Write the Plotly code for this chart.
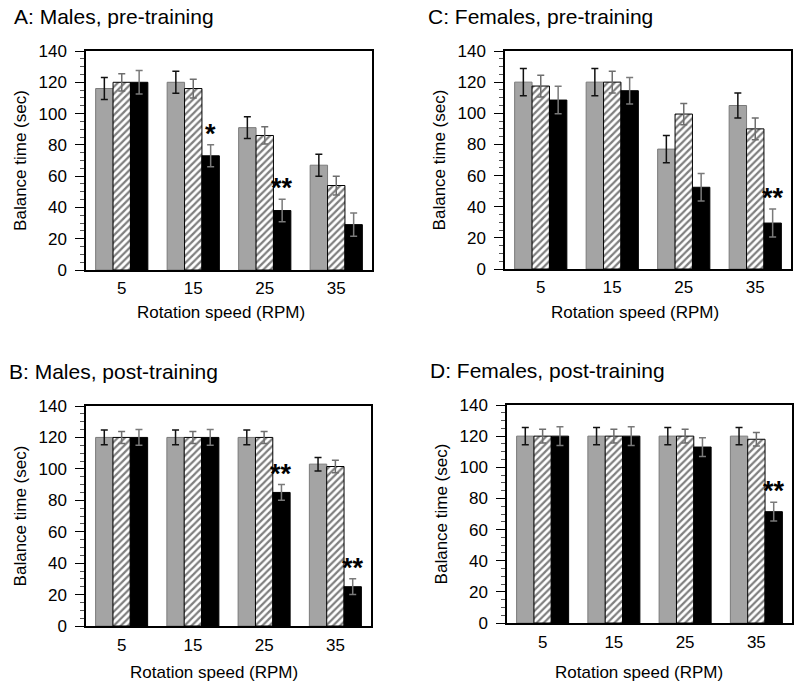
import plotly.graph_objects as go

speeds = ["5", "15", "25", "35"]

# Panel A: Males, pre-training
A_gray = [116, 120, 91, 67]
A_gray_err = [7, 7, 7, 7]
A_hatch = [120, 116, 86, 54]
A_hatch_err = [5.5, 6, 5.5, 6]
A_black = [120, 73, 38, 29]
A_black_err = [7.5, 7, 7.2, 7.4]
A_sig = ["", "*", "**", ""]

# Panel C: Females, pre-training
C_gray = [120, 120, 77, 105]
C_gray_err = [8.7, 8.7, 8.7, 8]
C_hatch = [117.5, 120, 99.5, 90]
C_hatch_err = [7, 7, 6.8, 7]
C_black = [108.5, 114.5, 52.5, 29.5]
C_black_err = [8.8, 8.5, 8.8, 9]
C_sig = ["", "", "", "**"]

# Panel B: Males, post-training
B_gray = [120, 120, 120, 103]
B_gray_err = [4.7, 4.7, 4.7, 4.3]
B_hatch = [120, 120, 120, 101.5]
B_hatch_err = [3.8, 3.8, 3.8, 3.9]
B_black = [120, 120, 85, 25]
B_black_err = [5, 5, 5, 5]
B_sig = ["", "", "**", "**"]

# Panel D: Females, post-training
D_gray = [120, 120, 120, 120]
D_gray_err = [5.6, 5.6, 5.6, 5.6]
D_hatch = [120, 120, 120, 118]
D_hatch_err = [4.4, 4.4, 4.4, 4.3]
D_black = [120, 120, 113, 71.5]
D_black_err = [6, 6, 6, 6]
D_sig = ["", "", "", "**"]

titles = ["A: Males, pre-training", "C: Females, pre-training",
          "B: Males, post-training", "D: Females, post-training"]

panels = [
    (A_gray, A_gray_err, A_hatch, A_hatch_err, A_black, A_black_err, A_sig),
    (C_gray, C_gray_err, C_hatch, C_hatch_err, C_black, C_black_err, C_sig),
    (B_gray, B_gray_err, B_hatch, B_hatch_err, B_black, B_black_err, B_sig),
    (D_gray, D_gray_err, D_hatch, D_hatch_err, D_black, D_black_err, D_sig),
]

# page body margin is removed (post_script), so window pixels = figure pixels
W, H = 800, 683


def px(x):
    return x / W


def py(y):
    return 1 - y / H


# plot-area pixel boxes (left, right, top, bottom)
boxes = [(86, 372, 51, 270), (505, 791, 51, 269),
         (86, 371, 406, 626), (507, 792, 405, 623)]
title_pos = [(12, 16), (426, 16), (7, 371), (428, 370)]
xtitle_pos = [(221, 312), (635, 313), (214, 672), (639, 672)]
xtick_len = [2, 2, 3, 3]

FONT = "Liberation Sans, Arial, Helvetica, sans-serif"
GRAY = "#a4a4a4"
BARGAP = 0.27

fig = go.Figure()
for i, (g, ge, h, he, b, be, sig) in enumerate(panels):
    n = "" if i == 0 else str(i + 1)
    xa, ya = "x" + n, "y" + n
    fig.add_trace(go.Bar(
        x=speeds, y=g, xaxis=xa, yaxis=ya, offsetgroup="g",
        marker=dict(color=GRAY, line=dict(color="#7a7a7a", width=1)),
        error_y=dict(type="data", array=ge, color="#111111", thickness=1.5, width=3.5),
        showlegend=False))
    fig.add_trace(go.Bar(
        x=speeds, y=h, xaxis=xa, yaxis=ya, offsetgroup="h",
        marker=dict(color="white", line=dict(color="black", width=1),
                    pattern=dict(shape="/", fgcolor="black", bgcolor="white",
                                 size=5, solidity=0.45)),
        error_y=dict(type="data", array=he, color="#6e6e6e", thickness=1.5, width=3.5),
        showlegend=False))
    fig.add_trace(go.Bar(
        x=speeds, y=b, xaxis=xa, yaxis=ya, offsetgroup="b",
        marker=dict(color="black", line=dict(color="black", width=1)),
        error_y=dict(type="data", array=be, color="#7a7a7a", thickness=1.5, width=3.5),
        showlegend=False))

    l, r, t, bt = boxes[i]
    xkey = "xaxis" + n
    ykey = "yaxis" + n
    fig.layout[xkey] = dict(
        domain=[px(l), px(r)], anchor=ya, type="category",
        range=[-0.5, len(speeds) - 0.5], automargin=False,
        showline=True, mirror=True, linecolor="black", linewidth=1.5,
        ticks="outside", ticklen=xtick_len[i], tickcolor="rgba(0,0,0,0)",
        showgrid=False, zeroline=False,
        tickfont=dict(family=FONT, size=17, color="black"),
    )
    fig.layout[ykey] = dict(
        domain=[py(bt), py(t)], anchor=xa, range=[0, 140], automargin=False,
        tickvals=[0, 20, 40, 60, 80, 100, 120, 140],
        showline=True, mirror=True, linecolor="black", linewidth=1.5,
        ticks="outside", ticklen=9, tickwidth=1, tickcolor="black",
        ticklabelstandoff=5,
        minor=dict(dtick=5, ticks="outside", ticklen=4, tickcolor="#555555", tickwidth=1),
        showgrid=False, zeroline=False,
        tickfont=dict(family=FONT, size=17, color="black"),
        title=dict(text="Balance time (sec)", standoff=8,
                   font=dict(family=FONT, size=17, color="black")),
    )
    # panel title
    tx, ty = title_pos[i]
    fig.add_annotation(x=px(tx), y=py(ty), xref="paper", yref="paper",
                       xanchor="left", yanchor="middle", showarrow=False,
                       text=titles[i], font=dict(family=FONT, size=21, color="black"))
    # x-axis title
    xx, xy = xtitle_pos[i]
    fig.add_annotation(x=px(xx), y=py(xy), xref="paper", yref="paper",
                       xanchor="center", yanchor="middle", showarrow=False,
                       text="Rotation speed (RPM)",
                       font=dict(family=FONT, size=17, color="black"))
    # significance markers above black bars (black bar = 3rd of 3 in group)
    offset = (1 - BARGAP) / 3
    for k, s in enumerate(sig):
        if s:
            fig.add_annotation(x=k + offset, y=b[k] + be[k], xref=xa, yref=ya,
                               yanchor="bottom", yshift=-6, showarrow=False,
                               text="<b>" + s + "</b>",
                               font=dict(family=FONT, size=27, color="black"))

fig.update_layout(
    width=W, height=H, margin=dict(l=0, r=0, t=0, b=0, autoexpand=False),
    paper_bgcolor="white", plot_bgcolor="white",
    barmode="group", bargap=BARGAP, bargroupgap=0,
)

fig.write_html("out.html",
               config={"displayModeBar": False},
               post_script="document.body.style.margin='0';document.body.style.overflow='hidden';")
